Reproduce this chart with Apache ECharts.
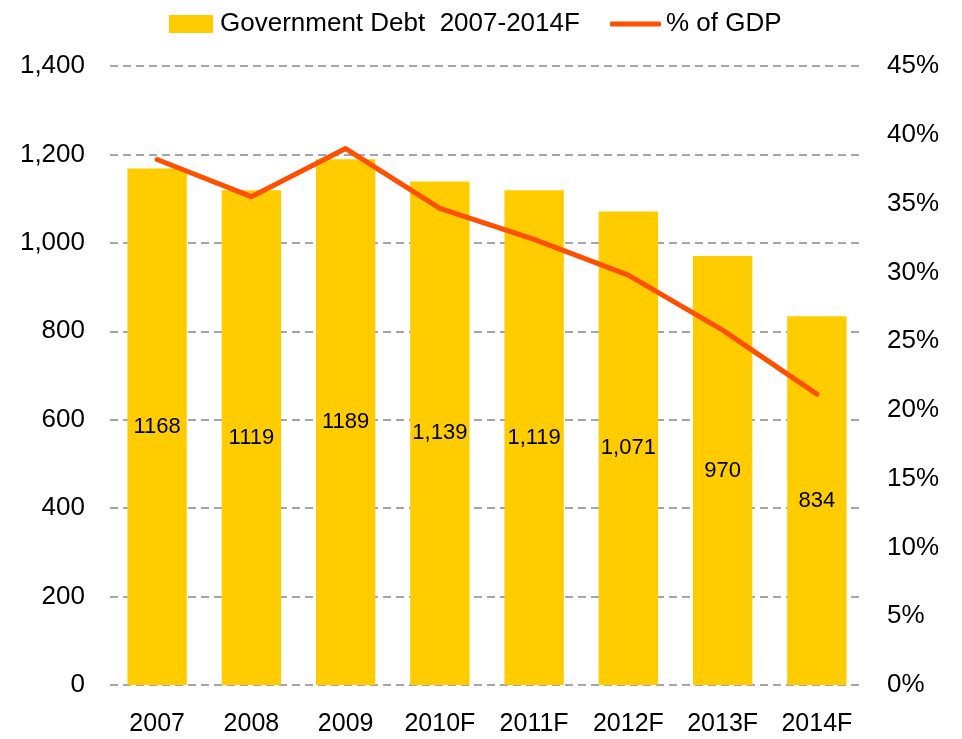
<!DOCTYPE html>
<html><head><meta charset="utf-8">
<script src="https://cdn.jsdelivr.net/npm/echarts@6/dist/echarts.min.js"></script>
<style>html,body{margin:0;padding:0;background:#fff}#c{width:962px;height:739px}</style>
</head><body><div id="c"></div>
<script>
const categories = ['2007','2008','2009','2010F','2011F','2012F','2013F','2014F'];
const debtValues = [1168,1119,1189,1139,1119,1071,970,834];
const debtLabels = ['1168','1119','1189','1,139','1,119','1,071','970','834'];
const gdpPercent = [38.2,35.5,39.0,34.65,32.4,29.8,25.8,21.15];
const leftTicks = {min:0,max:1400,interval:200};
const rightTicks = {min:0,max:45,interval:5};

const FONT = '"Liberation Sans", Arial, sans-serif';
const chart = echarts.init(document.getElementById('c'));
chart.setOption({
  animation:false,
  textStyle:{fontFamily:FONT},
  legend:[
    {data:[{name:'Government Debt  2007-2014F',icon:'rect'}],left:164,top:6,itemWidth:44,itemHeight:18,itemGap:5,
     textStyle:{fontSize:26,color:'#000',fontFamily:FONT,padding:[0,0,0,2]}},
    {data:[{name:'% of GDP',icon:'roundRect'}],left:605,top:6,itemWidth:51,itemHeight:5,itemGap:5,
     textStyle:{fontSize:26,color:'#000',fontFamily:FONT}}
  ],
  grid:{left:110,right:98,top:66,bottom:54,containLabel:false},
  xAxis:{type:'category',data:categories,
    axisLine:{show:false},axisTick:{show:false},
    axisLabel:{interval:0,fontSize:25,color:'#000',margin:27,fontFamily:FONT}},
  yAxis:[
    {type:'value',min:leftTicks.min,max:leftTicks.max,interval:leftTicks.interval,
     axisLine:{show:false},axisTick:{show:false},
     axisLabel:{fontSize:26,color:'#000',margin:25,fontFamily:FONT,
       formatter:v=>v.toLocaleString('en-US')},
     splitLine:{lineStyle:{color:'#888',type:[8,5],width:1.5}}},
    {type:'value',min:rightTicks.min,max:rightTicks.max,interval:rightTicks.interval,
     axisLine:{show:false},axisTick:{show:false},splitLine:{show:false},
     axisLabel:{fontSize:26,color:'#000',margin:23,fontFamily:FONT,formatter:'{value}%'}}
  ],
  series:[
    {name:'Government Debt  2007-2014F',type:'bar',data:debtValues,barCategoryGap:'37%',
     itemStyle:{color:'#FFCC00'},
     label:{show:true,position:'inside',color:'#000',fontSize:22,fontFamily:FONT,
       formatter:p=>debtLabels[p.dataIndex]}},
    {name:'% of GDP',type:'line',yAxisIndex:1,data:gdpPercent,showSymbol:false,symbol:'none',
     lineStyle:{color:'#FF5000',width:5,cap:'round',join:'round'},itemStyle:{color:'#FF5000'}}
  ]
});
</script></body></html>
